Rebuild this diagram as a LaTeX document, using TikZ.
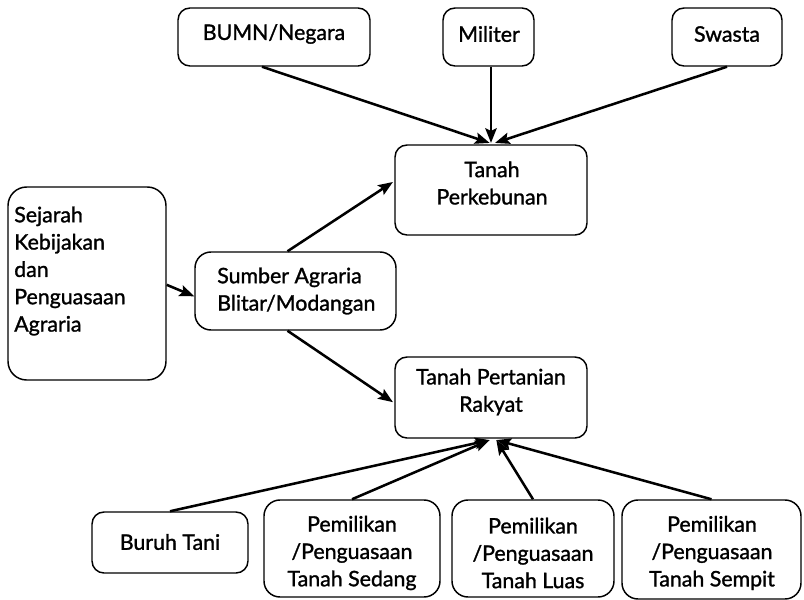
\documentclass[tikz,border=0pt]{standalone}
\usepackage{fontspec}
\setmainfont[FakeBold=1.3]{Lato}
\usetikzlibrary{arrows.meta,fit}
\begin{document}
\begin{tikzpicture}[x=0.75pt,y=-0.75pt,
  box/.style={draw,line width=1.1pt,rounded corners=9pt,inner sep=0pt},
  txt/.style={inner sep=0pt,font=\fontsize{16pt}{20.5pt}\selectfont,align=center},
  arr/.style={line width=1.9pt,-{Stealth[length=11pt,width=8.5pt,inset=2pt]}}]
\useasboundingbox (0,0) rectangle (804,600);
% boxes
\node[box,fit={(178,8)(370,66)}] (bumn) {};
\node[box,fit={(443,8)(534,66)}] (mil) {};
\node[box,fit={(672,8)(782,66)}] (swa) {};
\node[box,fit={(395,145)(587,235)}] (perk) {};
\node[box,rounded corners=14pt,fit={(8,187)(166,380)}] (sej) {};
\node[box,rounded corners=12pt,fit={(195,252)(396,330)}] (sum) {};
\node[box,fit={(395,357)(587,438)}] (tani) {};
\node[box,fit={(92,512)(248,573)}] (buruh) {};
\node[box,rounded corners=12pt,fit={(264,500)(440,597)}] (sedang) {};
\node[box,rounded corners=12pt,fit={(452,500)(614,597)}] (luas) {};
\node[box,rounded corners=12pt,fit={(622,500)(801,599)}] (sempit) {};
% texts
\node[txt] (bumnT) at (274,34) {BUMN/Negara};
\node[txt] (milT) at (489,34) {Militer};
\node[txt] (swaT) at (727,34) {Swasta};
\node[txt] (perkT) at (492,183) {Tanah\\Perkebunan};
\node[txt,align=left,anchor=west] (sejT) at (14,271) {Sejarah\\Kebijakan\\dan\\Penguasaan\\Agraria};
\node[txt,align=left,anchor=west] (sumT) at (217,291) {Sumber Agraria\\Blitar/Modangan};
\node[txt] (taniT) at (491,392) {Tanah Pertanian\\Rakyat};
\node[txt] (buruhT) at (170,542) {Buruh Tani};
\node[txt] (sedangT) at (352,553) {Pemilikan\\/Penguasaan\\Tanah Sedang};
\node[txt] (luasT) at (533,553) {Pemilikan\\/Penguasaan\\Tanah Luas};
\node[txt] (sempitT) at (712,553) {Pemilikan\\/Penguasaan\\Tanah Sempit};
% connectors
\draw[arr] ([xshift=-9pt]bumn.south) -- ([xshift=-1pt,yshift=1pt]perk.north);
\draw[arr] (perk.north |- mil.south) -- ([yshift=1pt]perk.north);
\draw[arr] (swa.south) -- ([xshift=3pt,yshift=1pt]perk.north);
\draw[arr] ([yshift=-1pt]sej.east) -- ([yshift=-4pt]sum.west);
\draw[arr] ([xshift=-6pt]sum.north) -- ([xshift=-1pt,yshift=6pt]perk.west);
\draw[arr] ([xshift=-6pt]sum.south) -- ([xshift=-1pt,yshift=-3.5pt]tani.west);
\draw[arr] (buruh.north) -- ([xshift=-1pt,yshift=-1pt]tani.south);
\draw[arr] (sedang.north) -- ([xshift=-1pt,yshift=-1pt]tani.south);
\draw[arr] (luas.north) -- ([xshift=4pt,yshift=-1pt]tani.south);
\draw[arr] (sempit.north) -- ([xshift=4pt,yshift=-1pt]tani.south);
\end{tikzpicture}
\end{document}
